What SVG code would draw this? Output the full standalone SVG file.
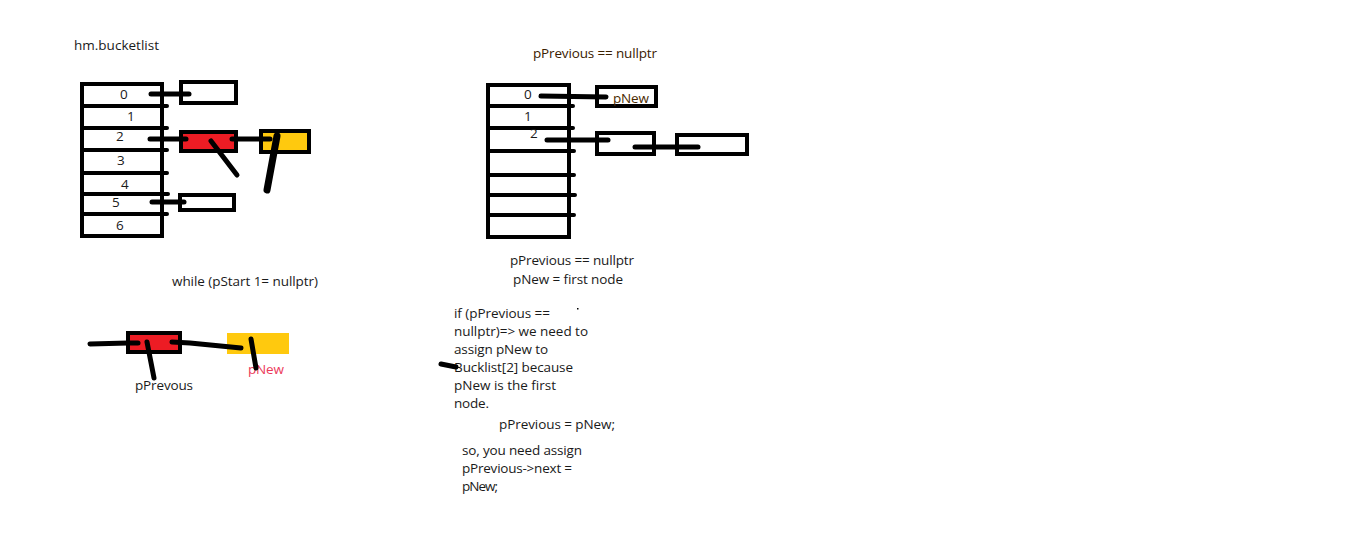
<svg xmlns="http://www.w3.org/2000/svg" width="1360" height="557" viewBox="0 0 1360 557">
<style>
text{font-family:"Open Sans","Liberation Sans",sans-serif;font-size:13.5px;fill:#1a1a1a}
.brown{fill:#3a2000}
.pnew{fill:#4a2a00}
.pink{fill:#EC3A5A}
.box{fill:#fff;stroke:#000;stroke-width:4}
.div{stroke:#000;stroke-width:4;stroke-linecap:round;fill:none}
.ln{stroke:#000;stroke-width:5;stroke-linecap:round;fill:none}
.thick{stroke:#000;stroke-width:7;stroke-linecap:round;fill:none}
</style>
<rect width="1360" height="557" fill="#fff"/>

<g id="table-left">
<text x="74" y="50" textLength="85">hm.bucketlist</text>
<rect class="box" x="82" y="84" width="80" height="152"/>
<path class="div" d="M82 106H167M82 128H167M82 150H167M82 173H167M82 194H168M82 214H167"/>
<text x="120" y="99">0</text>
<text x="127" y="121">1</text>
<text x="116" y="141">2</text>
<text x="117" y="165">3</text>
<text x="121" y="189">4</text>
<text x="112" y="207">5</text>
<text x="116" y="230">6</text>
</g>

<g id="node-box0"><rect class="box" x="181" y="82" width="55" height="21"/></g>
<g id="node-red"><rect x="181" y="132" width="55" height="19" fill="#ED1C24" stroke="#000" stroke-width="4"/></g>
<g id="node-yellow"><rect x="261" y="131" width="48" height="21" fill="#FFC90E" stroke="#000" stroke-width="4"/></g>
<g id="node-box5"><rect class="box" x="180" y="195" width="54" height="15"/></g>

<g id="table-right">
<text class="brown" x="533" y="58" textLength="124">pPrevious == nullptr</text>
<rect class="box" x="488" y="85" width="81" height="152"/>
<path class="div" d="M488 106H573M488 128H573M488 151H574M488 175H574M488 195H575M488 215H574"/>
<text x="524" y="99">0</text>
<text x="524" y="121">1</text>
<text x="530" y="138">2</text>
</g>

<g id="node-pnew"><rect class="box" x="597" y="87" width="59" height="19"/><text class="pnew" x="613" y="103" textLength="36">pNew</text></g>
<g id="node-r2a"><rect class="box" x="597" y="133" width="57" height="21"/></g>
<g id="node-r2b"><rect class="box" x="677" y="135" width="70" height="19"/></g>

<g id="bottom-left">
<text x="172" y="286" textLength="146">while (pStart 1= nullptr)</text>
<rect x="128" y="333" width="52" height="19" fill="#ED1C24" stroke="#000" stroke-width="4"/>
<rect x="227" y="333" width="62" height="21" fill="#FFC90E"/>
<text x="135" y="390" textLength="58">pPrevous</text>
<text class="pink" x="248" y="374" textLength="36">pNew</text>
</g>

<g id="text-block">
<text x="510" y="265" textLength="124">pPrevious == nullptr</text>
<text x="513" y="284" textLength="110">pNew = first node</text>
<text x="454" y="318" textLength="96">if (pPrevious ==</text>
<text x="454" y="336" textLength="134">nullptr)=&gt; we need to</text>
<text x="454" y="354" textLength="94">assign pNew to</text>
<text x="454" y="372" textLength="119">Bucklist[2] because</text>
<text x="454" y="390" textLength="102">pNew is the first</text>
<text x="454" y="408" textLength="35">node.</text>
<text x="499" y="429" textLength="116">pPrevious = pNew;</text>
<text x="462" y="455" textLength="120">so, you need assign</text>
<text x="462" y="473" textLength="110">pPrevious-&gt;next =</text>
<text x="462" y="491" textLength="36">pNew;</text>
<rect x="577" y="308" width="1.5" height="1.5" fill="#000"/>
</g>

<g id="connectors">
<path class="ln" d="M151 94H189"/>
<path class="ln" d="M150 139H186"/>
<path class="ln" d="M232 139H270"/>
<path class="ln" d="M211 141L237 175"/>
<path class="thick" d="M277 136L267 190"/>
<path class="ln" d="M152 202H184"/>
<path class="ln" d="M541 96L606 97"/>
<path class="ln" d="M547 140H608"/>
<path class="ln" d="M635 147H698"/>
<path class="ln" d="M90 344L128 343"/>
<path class="ln" d="M130 343H138"/>
<path class="ln" d="M172 342L190 343L241 348"/>
<path class="ln" d="M147 342L154 378"/>
<path class="ln" d="M251 339L256 368"/>
<path class="ln" d="M441 364L456 367"/>
</g>
</svg>
